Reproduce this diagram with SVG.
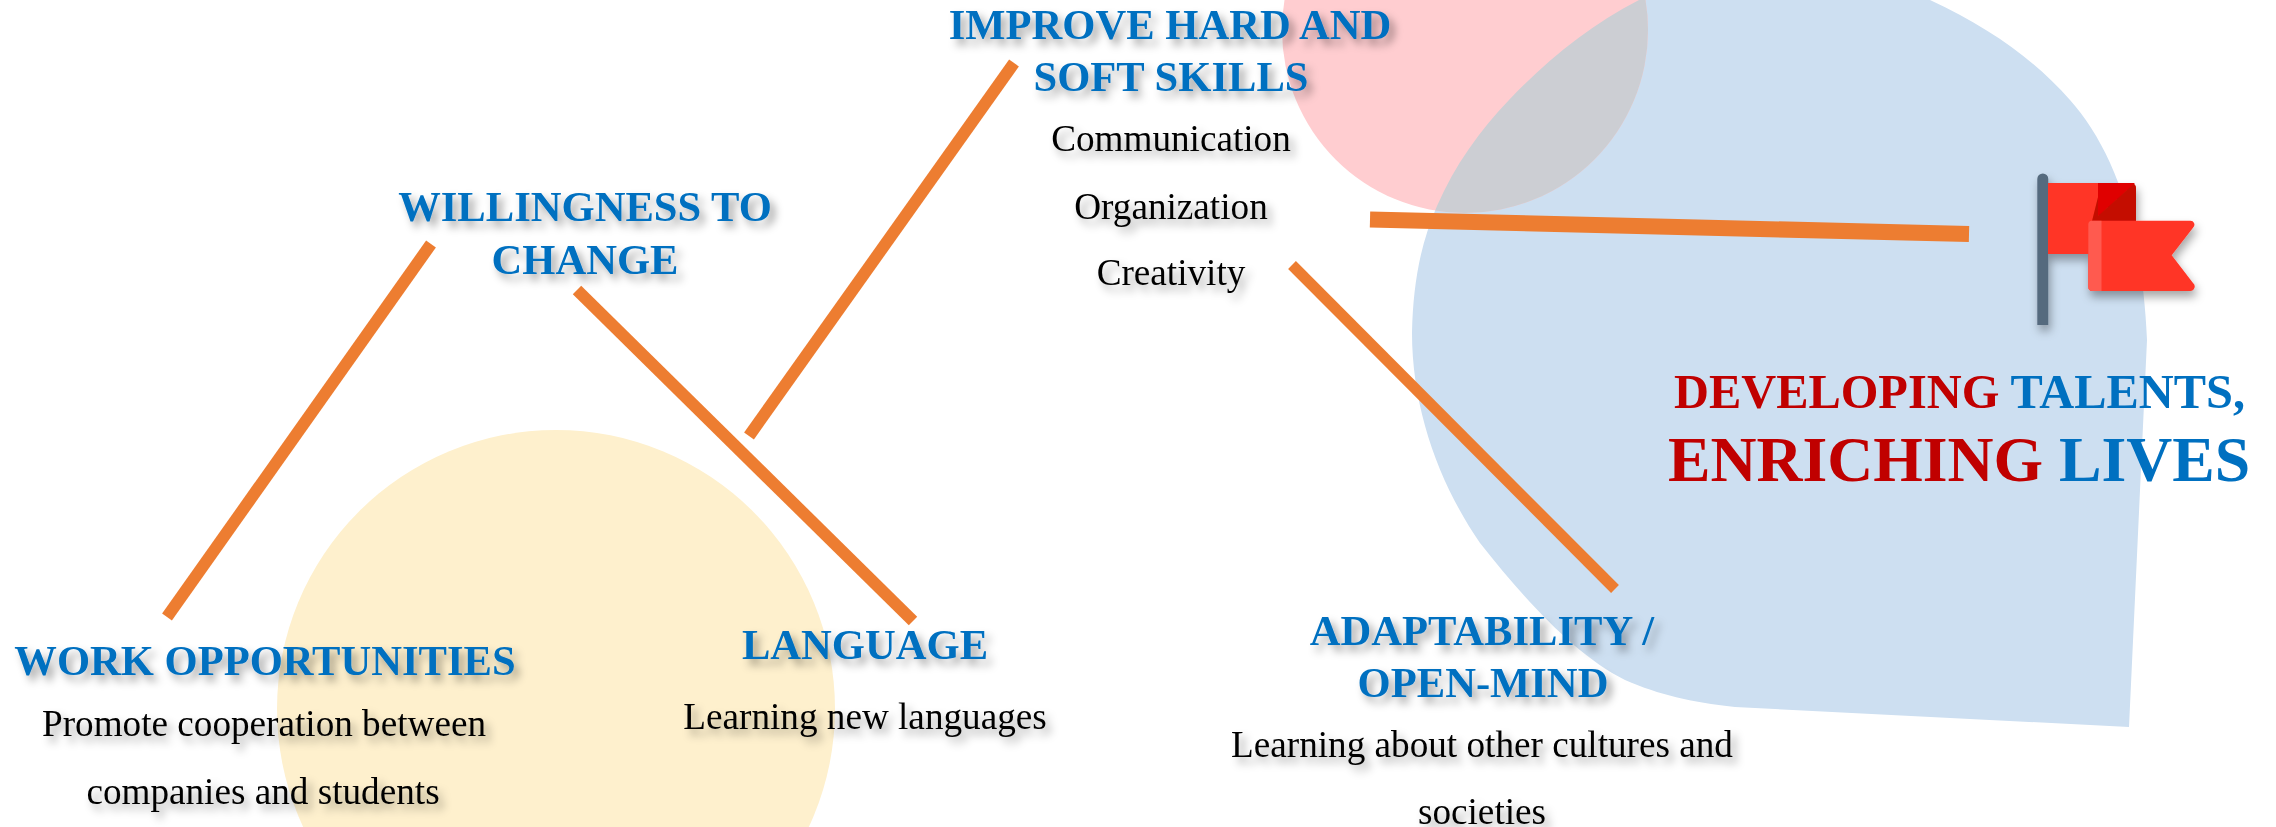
<svg xmlns="http://www.w3.org/2000/svg" width="2276" height="827" viewBox="0 0 2276 827">
<style>
text{font-family:"Liberation Serif","Times New Roman",serif;text-anchor:middle}
.h{font-size:42.600px;font-weight:bold;fill:#0070c0;filter:url(#ts)}
.b{font-size:37.200px;fill:#000;filter:url(#ts)}
.c{fill:none;stroke:#ed7d31;stroke-width:12}
.t{font-weight:bold;text-anchor:start}
.r{fill:#c00000}.u{fill:#0070c0}
</style>
<defs>
<filter id="ts" x="-10%" y="-40%" width="120%" height="200%"><feDropShadow dx="5" dy="6" stdDeviation="4.500" flood-color="#000" flood-opacity=".36"/></filter>
<filter id="fs" x="-20%" y="-20%" width="150%" height="150%"><feDropShadow dx="2" dy="6" stdDeviation="5" flood-color="#000" flood-opacity=".35"/></filter>
<path id="blob" d="M1930 0C1990 28 2035 60 2070 100C2110 145 2142 220 2147 340L2129 727L1735 707C1690 702 1660 695 1625 680C1575 655 1525 600 1480 543C1440 485 1412 410 1412 333C1413 285 1420 245 1437 206C1455 165 1480 130 1509 100C1545 62 1590 25 1639 0L1639 -10H1930Z"/>
<clipPath id="bc"><use href="#blob"/></clipPath>
</defs>
<rect width="2276" height="827" fill="#fff"/>
<g id="background">
<circle cx="556" cy="709" r="279" fill="#fef0cd"/>
<use href="#blob" fill="#cddff1"/>
<circle cx="1465" cy="30" r="183" fill="#ffcdd0"/>
<circle cx="1465" cy="30" r="183" fill="#ccced3" clip-path="url(#bc)"/>
</g>
<g id="connectors">
<path class="c" d="M431 244L167 617"/>
<path class="c" d="M577 290L913 621"/>
<path class="c" d="M1014 63L749 436"/>
<path class="c" d="M1370 219.500L1969 234" style="stroke-width:16"/>
<path class="c" d="M1292 265L1615 589" style="stroke-width:11"/>
</g>
<g id="node-work"><text class="h" x="265" y="674.500">WORK OPPORTUNITIES</text><text class="b" x="264" y="735.500">Promote cooperation between</text><text class="b" x="263" y="803.500">companies and students</text></g>
<g id="node-language"><text class="h" x="865" y="658.500">LANGUAGE</text><text class="b" x="865" y="728.500">Learning new languages</text></g>
<g id="node-willingness"><text class="h" x="585" y="220.500">WILLINGNESS TO</text><text class="h" x="585" y="273.500">CHANGE</text></g>
<g id="node-skills"><text class="h" x="1170" y="38.500">IMPROVE HARD AND</text><text class="h" x="1171" y="90.500">SOFT SKILLS</text><text class="b" x="1171" y="150.500">Communication</text><text class="b" x="1171" y="218.500">Organization</text><text class="b" x="1171" y="284.500">Creativity</text></g>
<g id="node-adaptability"><text class="h" x="1482" y="644.500">ADAPTABILITY /</text><text class="h" x="1483" y="696.500">OPEN-MIND</text><text class="b" x="1482" y="756.500">Learning about other cultures and</text><text class="b" x="1482" y="823.500">societies</text></g>
<g id="node-goal">
<g id="flag" filter="url(#fs)">
<path d="M2037.300 325V179a5.500 5.500 0 0 1 11 0V325Z" fill="#556a7e"/>
<path d="M2048 183H2131a5 5 0 0 1 5 5V221H2092V254H2048Z" fill="#ff3527"/>
<path d="M2101.500 183H2131a5 5 0 0 1 5 5V221H2092Z" fill="#c41000"/>
<path d="M2101.500 183H2135L2098 216V183Z" fill="#e00000"/>
<path d="M2092 220.700H2190a4 4 0 0 1 3 7L2171.700 255.300L2193 283a4.500 4.500 0 0 1 -3 8H2092a4 4 0 0 1 -3.700 -4V225a4 4 0 0 1 3.700 -4.300Z" fill="#ff3527"/>
<path d="M2101.500 220.700H2092a4 4 0 0 0 -3.700 4.300V287a4 4 0 0 0 3.700 4H2101.500Z" fill="#ff5a50"/>
</g>
<text class="t" x="1674" y="408" font-size="48.400"><tspan class="r">DEVELOPING </tspan><tspan class="u">TALENTS,</tspan></text>
<text class="t" x="1668" y="481" font-size="63.700"><tspan class="r">ENRICHING </tspan><tspan class="u">LIVES</tspan></text>
</g>
</svg>
